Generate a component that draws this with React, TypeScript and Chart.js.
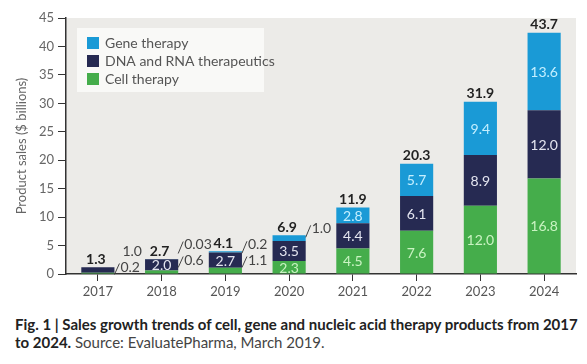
import React, { useEffect, useRef } from "react";
import { Chart, registerables } from "chart.js";

Chart.register(...registerables);

const years = ["2017", "2018", "2019", "2020", "2021", "2022", "2023", "2024"];
const cellTherapy = [0.2, 0.6, 1.1, 2.3, 4.5, 7.6, 12.0, 16.8];
const dnaRna = [1.0, 2.0, 2.7, 3.5, 4.4, 6.1, 8.9, 12.0];
const geneTherapy = [0, 0.03, 0.2, 1.0, 2.8, 5.7, 9.4, 13.6];
const totals = ["1.3", "2.7", "4.1", "6.9", "11.9", "20.3", "31.9", "43.7"];
const cellLabels = ["0.2", "0.6", "1.1", "2.3", "4.5", "7.6", "12.0", "16.8"];
const dnaLabels = ["1.0", "2.0", "2.7", "3.5", "4.4", "6.1", "8.9", "12.0"];
const geneLabels = ["", "0.03", "0.2", "1.0", "2.8", "5.7", "9.4", "13.6"];
const yTicks = [0, 5, 10, 15, 20, 25, 30, 35, 40, 45];

const COLORS = { gene: "#1a9ad6", dna: "#262a52", cell: "#45ad4b" };
const INNER_TEXT = ["#c9f3c2", "#e4e5f0", "#c4efff"];
const FONT = "Lato";

const bgPlugin = {
  id: "bgPlugin",
  beforeDraw(chart: any) {
    const { ctx, chartArea } = chart;
    ctx.save();
    ctx.fillStyle = "#ecebe8";
    ctx.fillRect(chartArea.left, chartArea.top, chartArea.right - chartArea.left, chartArea.bottom - chartArea.top);
    ctx.restore();
  },
};

const legendPlugin = {
  id: "legendBox",
  afterDatasetsDraw(chart: any) {
    const { ctx, chartArea } = chart;
    const x0 = chartArea.left + 11;
    const y0 = chartArea.top + 10;
    ctx.save();
    ctx.fillStyle = "#f9f9f7";
    ctx.fillRect(x0, y0, 187, 64);
    const order = [2, 1, 0];
    order.forEach((di, i) => {
      const ds = chart.data.datasets[di];
      const cy = y0 + 15 + i * 18;
      ctx.fillStyle = ds.backgroundColor;
      ctx.fillRect(x0 + 10, cy - 6, 12, 12);
      ctx.fillStyle = "#555555";
      ctx.font = `14px ${FONT}`;
      ctx.textAlign = "left";
      ctx.textBaseline = "middle";
      ctx.fillText(ds.label, x0 + 28, cy);
    });
    ctx.restore();
  },
};

const labelPlugin = {
  id: "barLabels",
  afterDatasetsDraw(chart: any) {
    const { ctx } = chart;
    const labelSets = [cellLabels, dnaLabels, geneLabels];
    const metas = [0, 1, 2].map((i) => chart.getDatasetMeta(i));
    ctx.save();
    years.forEach((_, idx) => {
      const els = metas.map((m: any) => m.data[idx]);
      const base = els[0].base;
      const cx = els[0].x;
      const right = cx + els[0].width / 2;
      let barTop = base;
      els.forEach((el: any) => {
        if (el.y < barTop) barTop = el.y;
      });
      const values = [cellTherapy[idx], dnaRna[idx], geneTherapy[idx]];
      let hasOutside = false;
      let lowerY: number | null = null;
      if (values[0] > 0 && values[0] < 1.5) {
        hasOutside = true;
        lowerY = barTop > base - 10 ? base - 6 : base - 13;
        ctx.strokeStyle = "#444";
        ctx.lineWidth = 1;
        ctx.beginPath();
        ctx.moveTo(right, lowerY + 7);
        ctx.lineTo(right + 5, lowerY - 4);
        ctx.stroke();
        ctx.fillStyle = "#444";
        ctx.font = `14px ${FONT}`;
        ctx.textAlign = "left";
        ctx.textBaseline = "middle";
        ctx.fillText(labelSets[0][idx], right + 6, lowerY);
      }
      [1, 2].forEach((di) => {
        const v = values[di];
        if (v > 0 && v < 1.5) {
          hasOutside = true;
          let ty = barTop - 7;
          if (lowerY !== null) ty = Math.min(ty, lowerY - 16);
          if (di === 2) {
            ctx.strokeStyle = "#444";
            ctx.lineWidth = 1;
            ctx.beginPath();
            ctx.moveTo(right, ty + 9);
            ctx.lineTo(right + 5, ty - 3);
            ctx.stroke();
          }
          ctx.fillStyle = "#444";
          ctx.font = `14px ${FONT}`;
          ctx.textAlign = "left";
          ctx.textBaseline = "middle";
          ctx.fillText(labelSets[di][idx], right + (di === 2 ? 6 : 8), ty);
        }
      });
      [0, 1, 2].forEach((di) => {
        const v = values[di];
        const el: any = els[di];
        if (v >= 1.5) {
          ctx.fillStyle = INNER_TEXT[di];
          ctx.font = `14px ${FONT}`;
          ctx.textAlign = "center";
          ctx.textBaseline = "middle";
          ctx.fillText(labelSets[di][idx], cx, (el.y + el.base) / 2 + 1);
        }
      });
      ctx.fillStyle = "#222";
      ctx.font = `bold 14px ${FONT}`;
      ctx.textAlign = "center";
      ctx.textBaseline = "middle";
      ctx.fillText(totals[idx], cx - (hasOutside ? 2 : 0), barTop - 8);
    });
    ctx.restore();
  },
};

export default function App() {
  const ref = useRef<HTMLCanvasElement | null>(null);
  useEffect(() => {
    if (!ref.current) return;
    const chart = new Chart(ref.current, {
      type: "bar",
      data: {
        labels: years,
        datasets: [
          { label: "Cell therapy", data: cellTherapy, backgroundColor: COLORS.cell },
          { label: "DNA and RNA therapeutics", data: dnaRna, backgroundColor: COLORS.dna },
          { label: "Gene therapy", data: geneTherapy, backgroundColor: COLORS.gene },
        ],
      },
      options: {
        animation: false,
        responsive: false,
        maintainAspectRatio: false,
        layout: { padding: { top: 18, right: 11, left: 0, bottom: 0 } },
        datasets: { bar: { categoryPercentage: 1, barPercentage: 0.52 } },
        plugins: { legend: { display: false }, tooltip: { enabled: false } },
        scales: {
          x: {
            stacked: true,
            grid: { drawOnChartArea: false, drawTicks: true, tickLength: 7, color: "#333", offset: false },
            border: { color: "#333", width: 1.5 },
            ticks: { color: "#555", font: { family: FONT, size: 13 }, padding: 3 },
            afterFit: (s: any) => {
              s.height = 26;
            },
          },
          y: {
            stacked: true,
            min: 0,
            max: 45,
            afterBuildTicks: (s: any) => {
              s.ticks = yTicks.map((v) => ({ value: v }));
            },
            grid: { drawOnChartArea: false, drawTicks: true, tickLength: 8, color: "#333" },
            border: { color: "#333", width: 1.5 },
            ticks: { color: "#666", font: { family: FONT, size: 13 }, padding: 4 },
            title: {
              display: true,
              text: "Product sales ($ billions)",
              color: "#666",
              font: { family: FONT, size: 13 },
              padding: { top: 14, bottom: 0 },
            },
            afterFit: (s: any) => {
              s.width = 66;
            },
          },
        },
      },
      plugins: [bgPlugin, labelPlugin, legendPlugin],
    });
    return () => chart.destroy();
  }, []);

  return (
    <div style={{ position: "absolute", left: 0, top: 0, width: 587, height: 364, background: "#fff", overflow: "hidden" }}>
      <canvas ref={ref} width={587} height={300} style={{ display: "block", width: 587, height: 300 }} />
      <div
        style={{
          position: "absolute",
          left: 15,
          top: 315,
          width: 572,
          fontFamily: FONT,
          fontSize: 15,
          lineHeight: "18px",
          color: "#222",
          letterSpacing: "0px",
        }}
      >
        <div style={{ fontWeight: "bold", whiteSpace: "nowrap" }}>
          Fig. 1 | Sales growth trends of cell, gene and nucleic acid therapy products from 2017
        </div>
        <div style={{ whiteSpace: "nowrap" }}>
          <span style={{ fontWeight: "bold" }}>to 2024.</span>
          <span style={{ color: "#444" }}> Source: EvaluatePharma, March 2019.</span>
        </div>
      </div>
    </div>
  );
}
